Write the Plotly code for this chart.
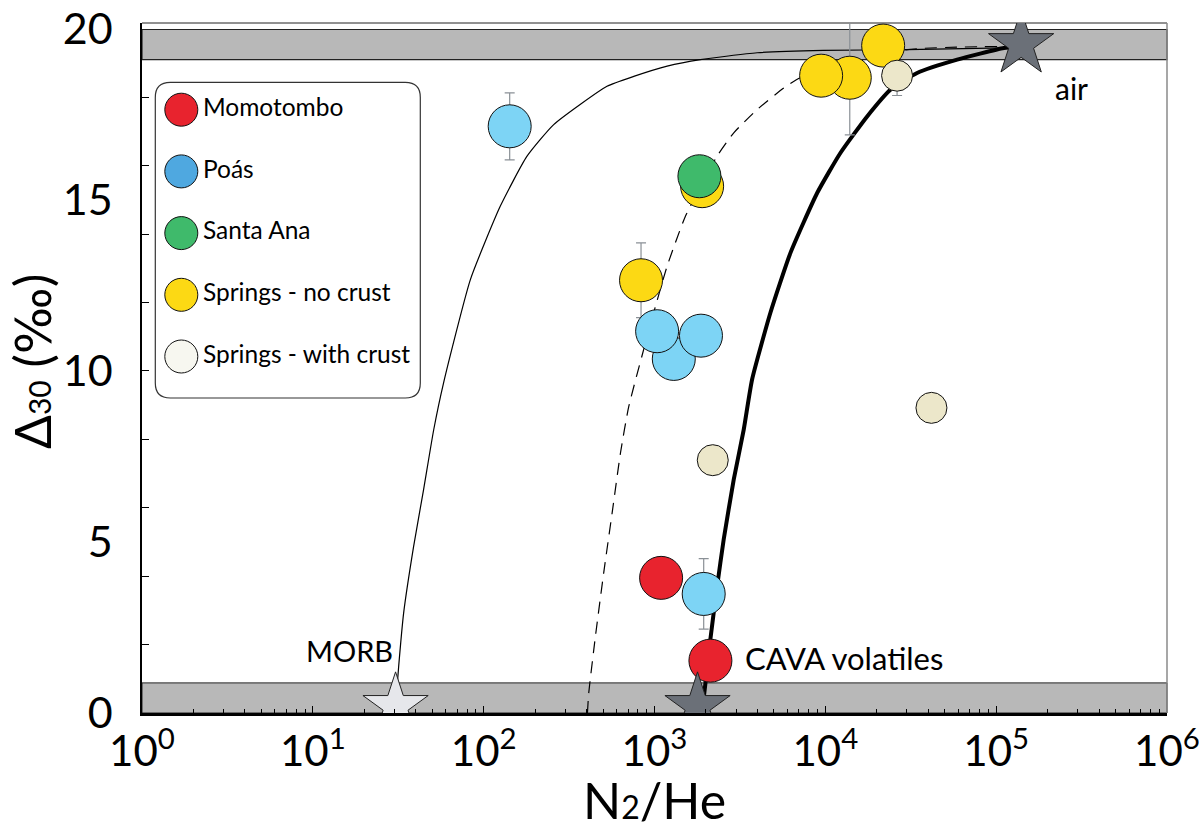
import plotly.graph_objects as go

# ---------------- data ----------------
momo_x = [1093, 2125]
momo_y = [3.95, 1.53]

poas_x = [142, 1297, 1871, 1036, 1941]
poas_y = [17.15, 10.35, 11.03, 11.16, 3.48]
poas_err = [0.98, None, None, None, 1.03]

santa_x = [1832]
santa_y = [15.69]

nocrust_x = [1900, 834, 13900, 9450, 21800]
nocrust_y = [15.40, 12.65, 18.57, 18.63, 19.51]
nocrust_err = [None, 1.09, 1.67, None, None]

crust_x = [2193, 41800, 26300]
crust_y = [7.39, 8.92, 18.63]
crust_err_plus = [None, None, 0]
crust_err_minus = [None, None, 0.58]

star_x = [30.5, 1786, 140000]
star_y = [0.2, 0.2, 19.55]
star_names = ["MORB", "CAVA volatiles", "air"]

# mixing curves
thin_x = [30.5, 31.8, 34.0, 38.9, 44.5, 51, 58.3, 83.6, 125, 179, 257, 527, 756,
          1186, 1857, 3990, 9750, 30100, 138700]
thin_y = [0.2, 1.36, 2.92, 4.87, 6.53, 8.28, 9.66, 12.67, 14.81, 16.27, 17.2,
          18.32, 18.61, 18.91, 19.10, 19.30, 19.37, 19.39, 19.45]

dash_x = [405, 412, 451, 504, 565, 632, 707, 989, 1185, 1517, 2326, 2911, 3990,
          5707, 7145, 30100, 138000]
dash_y = [0.0, 0.58, 2.24, 4.09, 5.85, 7.60, 8.96, 11.70, 13.06, 14.52, 16.28,
          16.96, 17.64, 18.27, 18.57, 19.39, 19.49]

thick_x = [1936, 2045, 2122, 2325, 2541, 2909, 3328, 3726, 4770, 6250, 8957,
           12250, 17570, 24050, 34450, 59100, 110900, 138700]
thick_y = [0.39, 1.41, 2.14, 3.70, 5.07, 6.82, 8.28, 9.75, 11.70, 13.45, 15.20,
           16.37, 17.44, 18.22, 18.71, 19.10, 19.44, 19.48]

# bands (Δ30 ranges)
band_low = [0.0, 0.88]
band_high = [19.10, 19.98]

legend_names = ["Momotombo", "Poás", "Santa Ana", "Springs - no crust", "Springs - with crust"]
legend_colors = ["#e8232e", "#4fa8e0", "#3fba6b", "#fcd914", "#f7f7f0"]

x_tickvals = [1, 10, 100, 1000, 10000, 100000, 1000000]
x_ticktext = ["10<sup>0</sup>", "10<sup>1</sup>", "10<sup>2</sup>", "10<sup>3</sup>",
              "10<sup>4</sup>", "10<sup>5</sup>", "10<sup>6</sup>"]
y_tickvals = [0, 5, 10, 15, 20]

# ---------------- styles ----------------
FONT = "Lato"
RED = "#e8232e"
BLUE = "#7dd4f5"
GREEN = "#3fba6b"
YELLOW = "#fcd914"
CREAM = "#ece7ca"
ERRC = "#8a9096"
BIG = 43
SMALL = 31
OUT = dict(color="#111111", width=1)

# plot area in pixels
W, H = 1199, 830
L, R, T, B = 141.7, 1166.7, 23.3, 713.3

fig = go.Figure()

# curves
fig.add_trace(go.Scatter(x=thin_x, y=thin_y, mode="lines",
                         line=dict(color="black", width=1.2, shape="spline", smoothing=0.5),
                         hoverinfo="skip", showlegend=False))
fig.add_trace(go.Scatter(x=dash_x, y=dash_y, mode="lines",
                         line=dict(color="black", width=1.2, dash="12px,8px", shape="spline", smoothing=0.5),
                         hoverinfo="skip", showlegend=False))
fig.add_trace(go.Scatter(x=thick_x, y=thick_y, mode="lines",
                         line=dict(color="black", width=4, shape="spline", smoothing=0.5),
                         hoverinfo="skip", showlegend=False))


def err(arr, arrm=None):
    d = dict(type="data", array=arr, color=ERRC, thickness=1.2, width=5, visible=True)
    if arrm is not None:
        d["symmetric"] = False
        d["arrayminus"] = arrm
    return d


fig.add_trace(go.Scatter(x=nocrust_x, y=nocrust_y, mode="markers", name="Springs - no crust",
                         marker=dict(size=BIG, color=YELLOW, line=OUT), error_y=err(nocrust_err),
                         showlegend=False))
fig.add_trace(go.Scatter(x=poas_x, y=poas_y, mode="markers", name="Poás",
                         marker=dict(size=BIG, color=BLUE, line=OUT), error_y=err(poas_err),
                         showlegend=False))
fig.add_trace(go.Scatter(x=momo_x, y=momo_y, mode="markers", name="Momotombo",
                         marker=dict(size=BIG, color=RED, line=OUT), showlegend=False))
fig.add_trace(go.Scatter(x=santa_x, y=santa_y, mode="markers", name="Santa Ana",
                         marker=dict(size=BIG, color=GREEN, line=OUT), showlegend=False))
fig.add_trace(go.Scatter(x=crust_x, y=crust_y, mode="markers", name="Springs - with crust",
                         marker=dict(size=SMALL, color=CREAM, line=OUT),
                         error_y=err(crust_err_plus, crust_err_minus), showlegend=False))
fig.add_trace(go.Scatter(x=star_x, y=star_y, mode="markers", text=star_names, hoverinfo="text",
                         marker=dict(symbol="star", size=49,
                                     color=["#e6e7eb", "#6b7078", "#6b7078"],
                                     line=dict(color="#222222", width=1)),
                         showlegend=False))

# custom legend (big circles) on a pixel-coordinate helper axis
leg_y0, leg_dy = 110, 61.7
leg_y = [leg_y0 + i * leg_dy for i in range(len(legend_names))]
fig.add_trace(go.Scatter(x=[181] * len(legend_names), y=leg_y, xaxis="x2", yaxis="y2",
                         mode="markers+text", text=legend_names, textposition="middle right",
                         textfont=dict(family=FONT, size=24.5, color="black"),
                         marker=dict(size=33, color=legend_colors, line=OUT),
                         hoverinfo="skip", showlegend=False))

# shapes: bands, frame, legend box
shapes = [
    dict(type="rect", xref="paper", yref="y", x0=0, x1=1, y0=band_low[0], y1=band_low[1],
         fillcolor="#b8b8b8", line=dict(color="#222222", width=1), layer="below"),
    dict(type="rect", xref="paper", yref="y", x0=0, x1=1, y0=band_high[0], y1=band_high[1],
         fillcolor="#b8b8b8", line=dict(color="#222222", width=1.2), layer="below"),
    dict(type="line", xref="paper", yref="paper", x0=0, x1=1, y0=1, y1=1,
         line=dict(color="#222222", width=1), layer="below"),
    dict(type="line", xref="paper", yref="paper", x0=1, x1=1, y0=0, y1=1,
         line=dict(color="#8a8a8a", width=1.5), layer="below"),
]
bx0, bx1, by0, by1, rr = 155, 420, 82.7, 398.3, 15
path = (f"M {bx0+rr},{by0} L {bx1-rr},{by0} Q {bx1},{by0} {bx1},{by0+rr} "
        f"L {bx1},{by1-rr} Q {bx1},{by1} {bx1-rr},{by1} L {bx0+rr},{by1} "
        f"Q {bx0},{by1} {bx0},{by1-rr} L {bx0},{by0+rr} Q {bx0},{by0} {bx0+rr},{by0} Z")
shapes.append(dict(type="path", xref="x2", yref="y2", path=path,
                   fillcolor="white", line=dict(color="#333333", width=1.2), layer="below"))


def px2paper_x(px):
    return (px - L) / (R - L)


def px2paper_y(py):
    return (B - py) / (B - T)


annotations = [
    dict(text="MORB", x=px2paper_x(349), y=px2paper_y(651), xref="paper", yref="paper",
         showarrow=False, font=dict(family=FONT, size=29, color="black"), xanchor="center", yanchor="middle"),
    dict(text="CAVA volatiles", x=px2paper_x(743), y=px2paper_y(658), xref="paper", yref="paper",
         showarrow=False, font=dict(family=FONT, size=31, color="black"), xanchor="left", yanchor="middle"),
    dict(text="air", x=px2paper_x(1053), y=px2paper_y(88), xref="paper", yref="paper",
         showarrow=False, font=dict(family=FONT, size=30, color="black"), xanchor="left", yanchor="middle"),
    # axis titles
    dict(text="N<span style=\"font-size:32px\">2</span>/He", x=0.5, y=px2paper_y(800),
         xref="paper", yref="paper", showarrow=False, xanchor="center", yanchor="middle",
         font=dict(family=FONT, size=50, color="black")),
    dict(text="Δ<span style=\"font-size:30px\">30</span> (<span style=\"font-family:DejaVu Sans\">‰</span>)",
         x=px2paper_x(32), y=px2paper_y(362),
         xref="paper", yref="paper", showarrow=False, xanchor="center", yanchor="middle",
         textangle=-90, font=dict(family=FONT, size=50, color="black")),
]

minor_x = [m * 10 ** k for k in range(6) for m in range(2, 10)]

fig.update_layout(
    width=W, height=H,
    margin=dict(l=L, r=W - R, t=T, b=H - B, pad=0, autoexpand=False),
    paper_bgcolor="white", plot_bgcolor="white",
    font=dict(family=FONT, color="black"),
    shapes=shapes, annotations=annotations,
    xaxis=dict(type="log", range=[0, 6], tickmode="array", tickvals=x_tickvals, ticktext=x_ticktext,
               tickfont=dict(family=FONT, size=42, color="black"),
               ticks="inside", ticklen=7, tickwidth=1.2, tickcolor="black",
               minor=dict(tickmode="array", tickvals=minor_x, ticks="inside", ticklen=4,
                          tickwidth=1, tickcolor="black", showgrid=False),
               showline=True, linecolor="black", linewidth=2.5, showgrid=False, zeroline=False,
               ticklabelstandoff=0, ticklabeloverflow="allow", automargin=False),
    yaxis=dict(range=[0, 20.17], tickmode="array", tickvals=y_tickvals,
               tickfont=dict(family=FONT, size=43, color="black"),
               ticks="", showline=True, linecolor="black", linewidth=1.5,
               minor=dict(tickmode="array", tickvals=[2, 4, 6, 8, 10, 12, 14, 16, 18], ticks="inside",
                          ticklen=7, tickwidth=1.2, tickcolor="black", showgrid=False),
               showgrid=False, zeroline=False, ticklabelstandoff=19, ticklabeloverflow="allow",
               automargin=False),
    xaxis2=dict(range=[L, R], domain=[0, 1], anchor="y2", overlaying="x", visible=False,
                fixedrange=True),
    yaxis2=dict(range=[B, T], domain=[0, 1], anchor="x2", overlaying="y", visible=False,
                fixedrange=True),
)

fig.write_html("out.html", config={"displayModeBar": False},
               post_script="document.body.style.margin='0';document.body.style.padding='0';")
